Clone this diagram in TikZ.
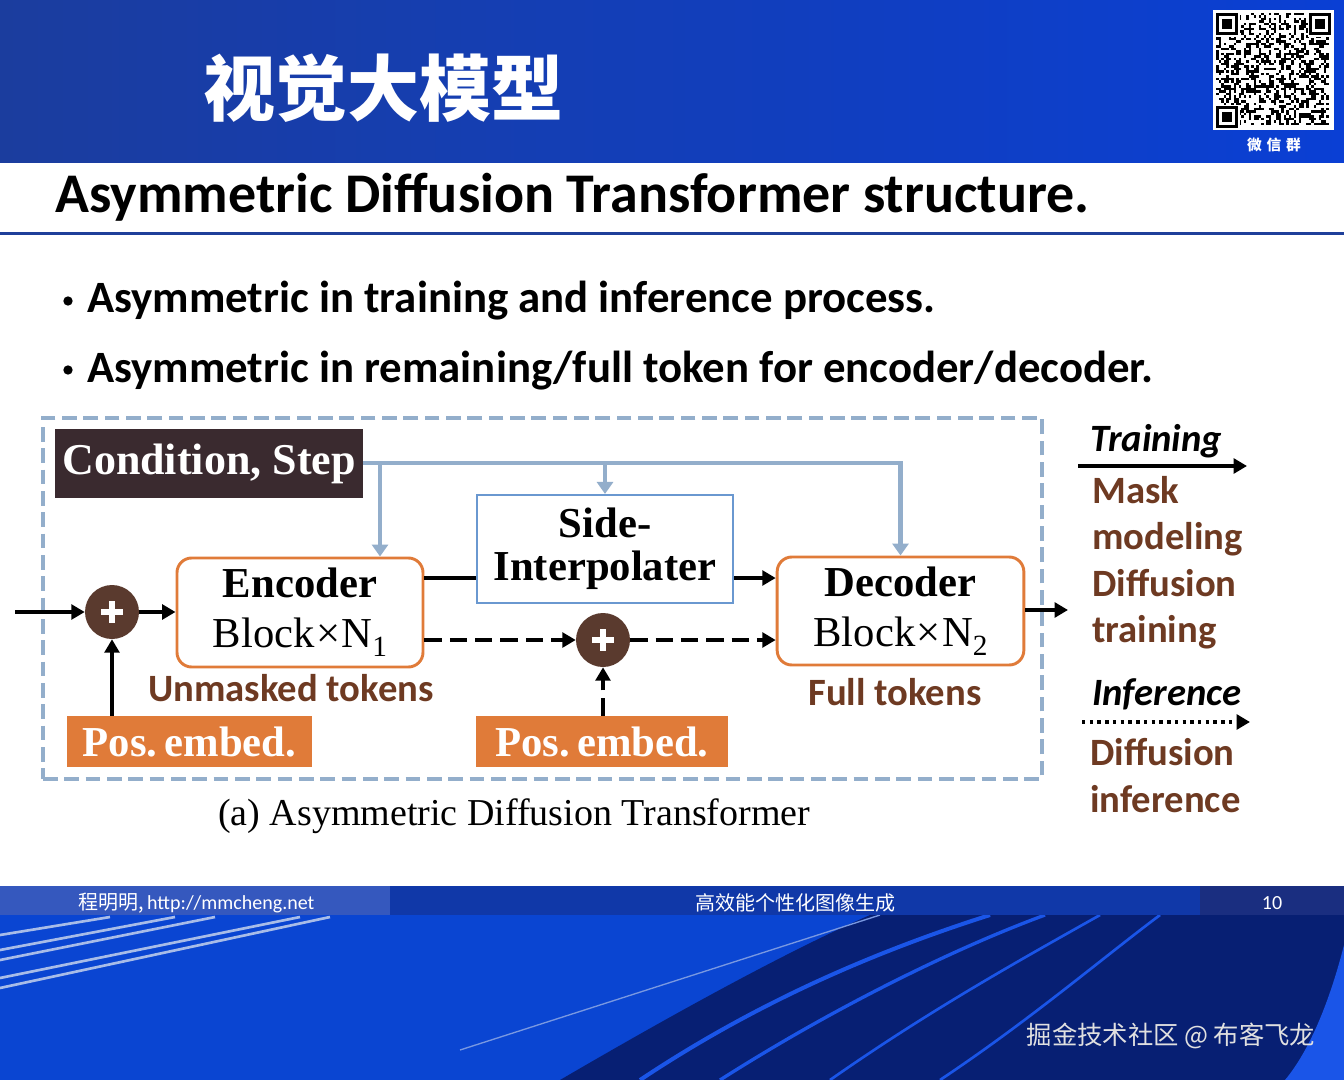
\documentclass[tikz,border=0pt]{standalone}
\usepackage{fontspec}
\setmainfont{Liberation Serif}
\newfontfamily\calib{Carlito}
\newfontfamily\cjk{Noto Sans CJK SC}
\usetikzlibrary{arrows.meta}
\definecolor{hdrL}{HTML}{1B3D9E}
\definecolor{hdrR}{HTML}{0A3FD4}
\definecolor{orng}{HTML}{E07B39}
\definecolor{brn}{HTML}{6E3A22}
\definecolor{circ}{HTML}{5A3A2E}
\definecolor{cond}{HTML}{3A2A2F}
\definecolor{steel}{HTML}{93AECB}
\definecolor{sideb}{HTML}{6A98D0}
\definecolor{rulec}{HTML}{1F3F9A}
\definecolor{botL}{HTML}{0A45D2}
\definecolor{botN}{HTML}{071F73}
\definecolor{arcB}{HTML}{1A55E8}
\definecolor{barL}{HTML}{3558BE}
\definecolor{barM}{HTML}{1038A8}
\definecolor{barR}{HTML}{1A2E80}
\definecolor{streak}{HTML}{A8BCE8}
\begin{document}
\begin{tikzpicture}[x=0.75pt,y=-0.75pt,
  blk/.style={line width=3pt,black},
  arr/.style={blk,-{Triangle[length=10pt,width=11pt]}},
  darr/.style={arr,dash pattern=on 13pt off 6pt},
  blu/.style={line width=3.5pt,steel},
  bluarr/.style={blu,-{Triangle[length=9pt,width=12pt]}},
  ublock/.style={draw=orng,line width=2.2pt,rounded corners=11pt,fill=white,align=center,inner sep=0pt,
     font=\fontsize{32}{37.5}\selectfont},
  pe/.style={fill=orng,text=white,inner sep=0pt,font=\bfseries\fontsize{32}{32}\selectfont,
     minimum height=38.25pt},
  plus/.style={circle,fill=circ,minimum size=40.5pt,inner sep=0pt},
  brtxt/.style={anchor=base west,inner sep=0pt,text=brn,font=\calib\bfseries\fontsize{29}{29}\selectfont},
  ittxt/.style={anchor=base west,inner sep=0pt,text=black,font=\calib\bfseries\itshape\fontsize{29}{29}\selectfont},
  bul/.style={circle,fill=black,minimum size=7pt,inner sep=0pt},
  foot/.style={text=white,font=\cjk\fontsize{15}{15}\selectfont}]
\useasboundingbox (0,0) rectangle (1344,1080);
\fill[white] (0,0) rectangle (1344,1080);
% header band
\shade[left color=hdrL,right color=hdrR] (0,0) rectangle (1344,163);
\node[anchor=west,inner sep=0pt,text=white,font=\cjk\bfseries\fontsize{54}{54}\selectfont] (ttl) at (203,88) {视觉大模型};
% QR code
\fill[white] (1213,10) rectangle (1334,130);
\pgfmathsetseed{11}
\foreach \i in {0,...,44}{
  \foreach \j in {0,...,44}{
    \pgfmathtruncatemacro\r{rnd>0.55}
    \ifnum\r=1 \fill[black] (1216+\i*2.5,13+\j*2.5) rectangle ++(2.5,2.5);\fi
  }}
\foreach \qx/\qy in {1216/13,1309/13,1216/106}{
  \fill[white] (\qx-1,\qy-1) rectangle ++(25,25);
  \fill[black] (\qx,\qy) rectangle ++(22,22);
  \fill[white] (\qx+3,\qy+3) rectangle ++(16,16);
  \fill[black] (\qx+6,\qy+6) rectangle ++(10,10);
}
\node[text=white,font=\cjk\bfseries\fontsize{11}{11}\selectfont] (wx) at (1274,145) {微\,\,信\,\,群};
% title and rule
\node[anchor=base west,inner sep=0pt,font=\calib\bfseries\fontsize{42}{42}\selectfont] (head) at (55,213) {Asymmetric Diffusion Transformer structure.};
\fill[rulec] (0,232) rectangle (1344,235);
\node[bul] (d1) at (68,301) {};
\node[anchor=base west,inner sep=0pt,font=\calib\bfseries\fontsize{33.6}{33.6}\selectfont] (b1) at (87,313) {Asymmetric in training and inference process.};
\node[bul] (d2) at (68,370) {};
\node[anchor=base west,inner sep=0pt,font=\calib\bfseries\fontsize{33.6}{33.6}\selectfont] (b2) at (87,382) {Asymmetric in remaining/full token for encoder/decoder.};
% frame
\node[draw=steel,line width=3pt,dash pattern=on 11pt off 5pt,minimum width=749.25pt,minimum height=270.75pt,inner sep=0pt] (frame) at (542.5,598.5) {};
% condition
\node[fill=cond,text=white,minimum width=231pt,minimum height=51.75pt,inner sep=0pt,
  font=\bfseries\fontsize{33}{33}\selectfont] (cond) at (209,463.5) {Condition, Step};
% blocks
\node[ublock,minimum width=184.5pt,minimum height=81.75pt] (enc) at (300,612.5)
  {\textbf{Encoder}\\Block{\kern1pt}×{\kern1pt}N\raisebox{-7pt}{\fontsize{22}{22}\selectfont 1}};
\node[draw=sideb,line width=1.6pt,fill=white,minimum width=192pt,minimum height=81pt,inner sep=0pt,align=center,
  font=\bfseries\fontsize{32}{32}\selectfont] (side) at (605,549) {Side-\\Interpolater};
\node[ublock,minimum width=185pt,minimum height=81pt] (dec) at (900.5,611)
  {\textbf{Decoder}\\Block{\kern1pt}×{\kern1pt}N\raisebox{-7pt}{\fontsize{22}{22}\selectfont 2}};
\node[plus] (c1) at (112,612) {};
\node[plus] (c2) at (603,640) {};
\foreach \c in {c1,c2}{
  \draw[white,line width=4.5pt] ([xshift=-8pt]\c.center) -- ([xshift=8pt]\c.center);
  \draw[white,line width=4.5pt] ([yshift=-8pt]\c.center) -- ([yshift=8pt]\c.center);
}
\node[pe,minimum width=184pt] (pe1) at (189.5,741.5) {Pos.\,embed.};
\node[pe,minimum width=189pt] (pe2) at (602,741.5) {Pos.\,embed.};
\node[brtxt] (um) at (148,701) {Unmasked tokens};
\node[brtxt] (ft) at (808,705) {Full tokens};
% blue connectors
\draw[bluarr] (cond.east |- 0,463) -| (dec.north);
\coordinate (bl1) at (380,463);
\draw[bluarr] (bl1) -- (bl1 |- enc.north);
\draw[bluarr] (side.north |- bl1) -- (side.north);
% black connectors
\coordinate (inp) at (15,612);
\coordinate (outp) at (1068,610);
\draw[arr] (inp) -- (c1.west);
\draw[arr] (c1.east) -- (c1.east -| enc.west);
\draw[arr] (c1 |- pe1.north) -- (c1.south);
\draw[blk] (enc.east |- 0,578) -- (side.west |- 0,578);
\draw[arr] (side.east |- 0,578) -- (dec.west |- 0,578);
\draw[darr] (enc.east |- c2) -- (c2.west);
\draw[darr] (c2.east) -- (dec.west |- c2);
\draw[darr] (c2 |- pe2.north) -- (c2.south);
\draw[arr] (dec.east |- outp) -- (outp);
% caption
\node[anchor=base west,inner sep=0pt,font=\fontsize{28.5}{28.5}\selectfont] (cap) at (218,825) {(a) Asymmetric Diffusion Transformer};
% right legend
\node[ittxt] (tr) at (1090,451) {Training};
\coordinate (t1) at (1078,466); \coordinate (t2) at (1247,466);
\draw[arr] (t1) -- (t2);
\node[brtxt] (l1) at (1092,503) {Mask};
\node[brtxt] (l2) at (1092,549) {modeling};
\node[brtxt] (l3) at (1092,596) {Diffusion};
\node[brtxt] (l4) at (1092,642) {training};
\node[ittxt] (inf) at (1092,705) {Inference};
\coordinate (i1) at (1082,722); \coordinate (i2) at (1250,722);
\draw[line width=3pt,dash pattern=on 2.6pt off 3.2pt,-{Triangle[length=10pt,width=11pt]}] (i1) -- (i2);
\node[brtxt] (l5) at (1090,765) {Diffusion};
\node[brtxt] (l6) at (1090,812) {inference};
% footer
\fill[botL] (0,915) rectangle (1344,1080);
\fill[botN] (870,915) -- (1344,915) -- (1344,1080) -- (560,1080) .. controls (680,1010) and (790,950) .. cycle;
\draw[arcB,line width=3pt] (640,1080) .. controls (760,1000) and (880,950) .. (990,915);
\draw[arcB,line width=2.5pt] (720,1080) .. controls (830,1010) and (950,950) .. (1045,915);
\draw[arcB,line width=2pt] (830,1080) .. controls (930,1010) and (1020,960) .. (1100,915);
\draw[arcB,line width=2pt] (940,1080) .. controls (1030,1020) and (1100,960) .. (1160,915);
\fill[arcB] (1344,945) .. controls (1330,1000) and (1310,1050) .. (1285,1080) -- (1344,1080) -- cycle;
\draw[streak!70!botL,line width=1pt] (460,1050) -- (880,915);
\draw[streak,line width=2pt] (0,935) -- (110,917);
\draw[streak,line width=2pt] (0,950) -- (175,917);
\draw[streak,line width=2pt] (0,960) -- (215,917);
\draw[streak,line width=2pt] (0,978) -- (300,917);
\draw[streak,line width=2pt] (0,988) -- (330,917);
\fill[barL] (0,886) rectangle (390,915);
\fill[barM] (390,886) rectangle (1200,915);
\fill[barR] (1200,886) rectangle (1344,915);
\node[foot,anchor=west,inner sep=0pt] (f1) at (78,903) {程明明,\,{\calib http://mmcheng.net}};
\node[foot] (f2) at (795,903) {高效能个性化图像生成};
\node[foot,font=\calib\fontsize{15}{15}\selectfont] (f3) at (1272,903) {10};
\node[text=white!88!black,font=\cjk\fontsize{19}{19}\selectfont] (wm) at (1171,1036) {掘金技术社区 @ 布客飞龙};
\end{tikzpicture}
\end{document}
